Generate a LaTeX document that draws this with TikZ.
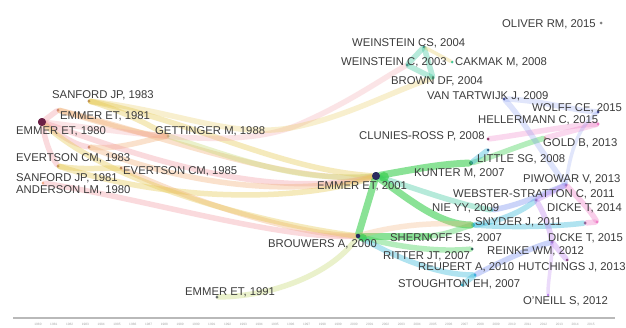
\documentclass[tikz,border=0pt]{standalone}
\usepackage{fontspec}
\setmainfont{Liberation Sans}
\begin{document}
\begin{tikzpicture}[x=1pt,y=-1pt,
  lbl/.style={anchor=west,inner sep=0pt,text height=8pt,text depth=0pt,
    font=\fontsize{11.3}{12}\selectfont,text=labelgray},
  dot/.style={circle,inner sep=0pt,minimum size=3pt,fill=dotnavy},
  bigdot/.style={circle,inner sep=0pt,minimum size=8pt,fill=dotnavy},
  band/.style={line width=5.5pt,opacity=0.38,line cap=round},
  fatband/.style={line width=7pt,opacity=0.6,line cap=round},
  thinband/.style={line width=3.5pt,opacity=0.3,line cap=round},
  glow/.style={circle,inner sep=0pt,fill=greenE,opacity=0.7},
  yr/.style={inner sep=0pt,font=\fontsize{3.2}{3.5}\selectfont,text=gray!70}
]
\definecolor{labelgray}{HTML}{3C3C3C}
\definecolor{dotnavy}{HTML}{2A2A5E}
\definecolor{dotmaroon}{HTML}{6A2046}
\definecolor{pinkE}{HTML}{F4A0A8}
\definecolor{orangeE}{HTML}{F2B27A}
\definecolor{yellowE}{HTML}{E6C850}
\definecolor{ygreenE}{HTML}{C8DC78}
\definecolor{greenE}{HTML}{3CD050}
\definecolor{tealE}{HTML}{40C8A0}
\definecolor{cyanE}{HTML}{30B8D8}
\definecolor{blueE}{HTML}{7890F0}
\definecolor{purpleE}{HTML}{C088F0}
\definecolor{magentaE}{HTML}{F080C8}
\useasboundingbox (0,0) rectangle (626,327);
\fill[white] (0,0) rectangle (626,327);

% ---------- dots (nodes) ----------
\node[bigdot,fill=dotmaroon] (d-e1980) at (42,122) {};
\node[dot,fill=dotmaroon] (d-e1981) at (58,110) {};
\node[dot,fill=dotmaroon] (d-s1983) at (89,101) {};
\node[dot,fill=dotmaroon] (d-ev1983) at (89,147) {};
\node[dot,fill=dotmaroon] (d-s1981) at (58,166) {};
\node[dot,fill=orangeE] (d-and1980) at (43,183) {};
\node[dot,fill=dotmaroon] (d-ev1985) at (121,168) {};
\node[dot] (d-get1988) at (168,136) {};
\node[dot] (d-e1991) at (217,297) {};
\node[bigdot] (d-e2001) at (376,176) {};
\node[dot,minimum size=4.5pt] (d-brou2000) at (358,236) {};
\node[dot] (d-w2004) at (424,47) {};
\node[dot] (d-w2003) at (407,65) {};
\node[dot,fill=tealE] (d-brown) at (433,78) {};
\node[dot] (d-vantart) at (504,99) {};
\node[dot] (d-wolff) at (598,112) {};
\node[dot,fill=magentaE] (d-hell) at (598,124) {};
\node[dot,fill=dotmaroon] (d-clunies) at (488,139) {};
\node[dot] (d-little) at (488,150) {};
\node[dot,minimum size=4pt] (d-kunter) at (471,163) {};
\node[dot,fill=pinkE] (d-gold) at (545,138) {};
\node[dot,fill=dotmaroon] (d-piwowar) at (566,185) {};
\node[dot,fill=dotmaroon] (d-webster) at (536,200) {};
\node[dot,fill=tealE] (d-nie) at (492,210) {};
\node[dot,fill=dotmaroon] (d-dicke14) at (585,223) {};
\node[dot,fill=magentaE] (d-dicke15) at (597,222) {};
\node[dot,fill=cyanE,minimum size=4pt] (d-snyder) at (473,225) {};
\node[dot,fill=greenE] (d-shernoff) at (430,236) {};
\node[dot] (d-ritter) at (472,249) {};
\node[dot,fill=dotmaroon] (d-reinke) at (552,242) {};
\node[dot,fill=dotmaroon] (d-hutch) at (567,260) {};
\node[dot,fill=cyanE] (d-reupert) at (475,275) {};
\node[dot,fill=cyanE] (d-stough) at (462,285) {};
\node[dot,fill=purpleE] (d-oneill) at (548,295) {};
\node[dot,fill=gray] (d-oliver) at (601,23) {};
\node[dot,fill=tealE] (d-cakmak) at (452,62) {};

% ---------- bands (connectors) ----------
% left cluster, 1980s
\draw[band,pinkE] (d-e1980) -- (d-e1981);
\draw[band,pinkE] (d-e1980) .. controls (60,135) and (75,145) .. (d-ev1983);
\draw[band,pinkE] (d-e1980) .. controls (45,140) and (50,155) .. (d-s1981);
\draw[band,yellowE] (d-s1983) .. controls (120,110) and (150,125) .. (d-get1988);
\draw[band,orangeE] (d-ev1983) .. controls (120,150) and (145,140) .. (d-get1988);
\draw[band,yellowE] (d-s1981) .. controls (80,170) and (100,168) .. (d-ev1985);
\draw[band,orangeE] (d-e1981) .. controls (110,125) and (140,135) .. (d-get1988);
% left -> EMMER 2001
\draw[band,pinkE] (d-e1980) .. controls (150,160) and (270,200) .. (d-e2001);
\draw[band,orangeE] (d-e1981) .. controls (160,135) and (290,185) .. (d-e2001);
\draw[band,yellowE] (d-s1983) .. controls (190,120) and (280,170) .. (d-e2001);
\draw[band,ygreenE] (d-get1988) .. controls (240,160) and (300,182) .. (d-e2001);
\draw[band,orangeE] (d-ev1983) .. controls (200,190) and (300,195) .. (d-e2001);
\draw[band,yellowE] (d-s1981) .. controls (180,205) and (310,200) .. (d-e2001);
% left -> BROUWERS 2000
\draw[band,orangeE] (d-ev1985) .. controls (200,205) and (300,235) .. (d-brou2000);
\draw[band,pinkE] (d-and1980) .. controls (150,200) and (280,240) .. (d-brou2000);
\draw[band,yellowE] (d-e1980) .. controls (110,185) and (270,225) .. (d-brou2000);
\draw[band,ygreenE] (d-e1991) .. controls (280,296) and (335,270) .. (d-brou2000);
% left -> WEINSTEIN / BROWN
\draw[band,pinkE,opacity=0.28] (d-e1980) .. controls (150,135) and (240,150) .. (300,124) .. controls (350,102) and (380,80) .. (d-w2003);
\draw[band,yellowE,opacity=0.28] (d-s1983) .. controls (180,112) and (230,138) .. (290,128) .. controls (345,118) and (395,90) .. (d-brown);
% WEINSTEIN triangle
\draw[band,tealE] (d-w2003) -- (d-w2004);
\draw[band,tealE] (d-w2004) -- (d-brown);
\draw[band,tealE] (d-w2003) -- (d-brown);
\draw[thinband,yellowE] (d-w2004) -- (d-cakmak);
% EMMER 2001 fan
\draw[fatband,greenE] (d-e2001) -- (d-brou2000);
\draw[fatband,greenE] (d-e2001) .. controls (410,170) and (440,164) .. (d-kunter);
\draw[fatband,greenE] (d-e2001) .. controls (410,200) and (440,225) .. (d-snyder);
\draw[band,tealE] (d-e2001) .. controls (420,190) and (460,205) .. (d-nie);
\draw[band,greenE] (d-kunter) .. controls (490,158) and (520,145) .. (d-gold);
\draw[band,magentaE,opacity=0.3] (d-clunies) .. controls (520,135) and (570,125) .. (d-hell);
\draw[band,magentaE,opacity=0.3] (d-gold) -- (d-hell);
\draw[band,cyanE] (d-kunter) -- (d-little);
% BROUWERS fan
\draw[fatband,greenE] (d-brou2000) .. controls (390,236) and (410,236) .. (d-shernoff);
\draw[band,greenE] (d-shernoff) .. controls (450,234) and (460,228) .. (d-snyder);
\draw[band,greenE] (d-brou2000) .. controls (400,248) and (440,252) .. (d-ritter);
\draw[band,cyanE] (d-brou2000) .. controls (400,260) and (440,275) .. (d-reupert);
\draw[band,orangeE,opacity=0.3] (d-brou2000) .. controls (400,224) and (440,222) .. (d-snyder);
% right side
\draw[band,cyanE] (d-snyder) .. controls (510,220) and (530,205) .. (d-webster);
\draw[band,cyanE] (d-snyder) .. controls (520,228) and (560,226) .. (d-dicke14);
\draw[band,blueE] (d-nie) .. controls (520,205) and (540,195) .. (d-piwowar);
\draw[band,purpleE] (d-webster) -- (d-piwowar);
\draw[band,magentaE] (d-piwowar) .. controls (580,200) and (590,210) .. (d-dicke15);
\draw[band,magentaE] (d-dicke14) -- (d-dicke15);
\draw[band,purpleE] (d-webster) .. controls (545,215) and (550,230) .. (d-reinke);
\draw[band,blueE] (d-reupert) .. controls (500,262) and (530,248) .. (d-reinke);
\draw[band,purpleE] (d-reinke) -- (d-hutch);
\draw[thinband,purpleE] (d-oneill) .. controls (548,280) and (552,262) .. (d-reinke);
\draw[band,cyanE] (d-reupert) -- (d-stough);
\draw[band,blueE,opacity=0.25] (d-vantart) .. controls (520,115) and (540,150) .. (d-piwowar);
\draw[band,blueE,opacity=0.22] (d-vantart) .. controls (540,100) and (570,110) .. (d-wolff);
\draw[thinband,blueE,opacity=0.22] (d-wolff) .. controls (580,125) and (570,150) .. (d-piwowar);

% glows around the major nodes
\node[glow,minimum size=10pt] (g-e2001) at (384,177) {};
\node[glow,minimum size=8pt] (g-brou) at (363,238) {};
\node[bigdot] (d-e2001b) at (376,176) {};
\node[dot,minimum size=4.5pt] (d-brou2000b) at (358,236) {};
\node[bigdot,fill=dotmaroon] (d-e1980b) at (42,122) {};

% ---------- labels ----------
\node[lbl] (l-s1983) at (52,94) {SANFORD JP, 1983};
\node[lbl] (l-e1981) at (60,115) {EMMER ET, 1981};
\node[lbl] (l-e1980) at (16,130) {EMMER ET, 1980};
\node[lbl] (l-get1988) at (155,130) {GETTINGER M, 1988};
\node[lbl] (l-ev1983) at (16,157) {EVERTSON CM, 1983};
\node[lbl] (l-ev1985) at (123,170) {EVERTSON CM, 1985};
\node[lbl] (l-s1981) at (16,177) {SANFORD JP, 1981};
\node[lbl] (l-and1980) at (16,189) {ANDERSON LM, 1980};
\node[lbl] (l-e1991) at (185,291) {EMMER ET, 1991};
\node[lbl] (l-e2001) at (317,185) {EMMER ET, 2001};
\node[lbl] (l-brou2000) at (268,243) {BROUWERS A, 2000};
\node[lbl] (l-oliver) at (502,23) {OLIVER RM, 2015};
\node[lbl] (l-w2004) at (352,42) {WEINSTEIN CS, 2004};
\node[lbl] (l-w2003) at (341,61) {WEINSTEIN C, 2003};
\node[lbl] (l-cakmak) at (455,61) {CAKMAK M, 2008};
\node[lbl] (l-brown) at (391,80) {BROWN DF, 2004};
\node[lbl] (l-vantart) at (427,95) {VAN TARTWIJK J, 2009};
\node[lbl] (l-wolff) at (532,107) {WOLFF CE, 2015};
\node[lbl] (l-hell) at (478,119) {HELLERMANN C, 2015};
\node[lbl] (l-clunies) at (359,135) {CLUNIES-ROSS P, 2008};
\node[lbl] (l-gold) at (543,142) {GOLD B, 2013};
\node[lbl] (l-little) at (477,158) {LITTLE SG, 2008};
\node[lbl] (l-kunter) at (414,172) {KUNTER M, 2007};
\node[lbl] (l-piwowar) at (523,178) {PIWOWAR V, 2013};
\node[lbl] (l-webster) at (453,193) {WEBSTER-STRATTON C, 2011};
\node[lbl] (l-nie) at (432,207) {NIE YY, 2009};
\node[lbl] (l-dicke14) at (547,207) {DICKE T, 2014};
\node[lbl] (l-snyder) at (475,221) {SNYDER J, 2011};
\node[lbl] (l-shernoff) at (390,237) {SHERNOFF ES, 2007};
\node[lbl] (l-dicke15) at (548,237) {DICKE T, 2015};
\node[lbl] (l-ritter) at (383,255) {RITTER JT, 2007};
\node[lbl] (l-reinke) at (487,250) {REINKE WM, 2012};
\node[lbl] (l-reupert) at (418,266) {REUPERT A, 2010};
\node[lbl] (l-hutch) at (518,266) {HUTCHINGS J, 2013};
\node[lbl] (l-stough) at (398,283) {STOUGHTON EH, 2007};
\node[lbl] (l-oneill) at (523,300) {O'NEILL S, 2012};

% ---------- timeline ----------
\coordinate (t-left) at (13,318);
\coordinate (t-right) at (615,318);
\draw[line width=2pt,gray!55] (t-left) -- (t-right);
\foreach \y [count=\i from 0] in {1980,...,2015}
  \node[yr,name=yr\y] at (38+15.8*\i,324) {\y};
\end{tikzpicture}
\end{document}
